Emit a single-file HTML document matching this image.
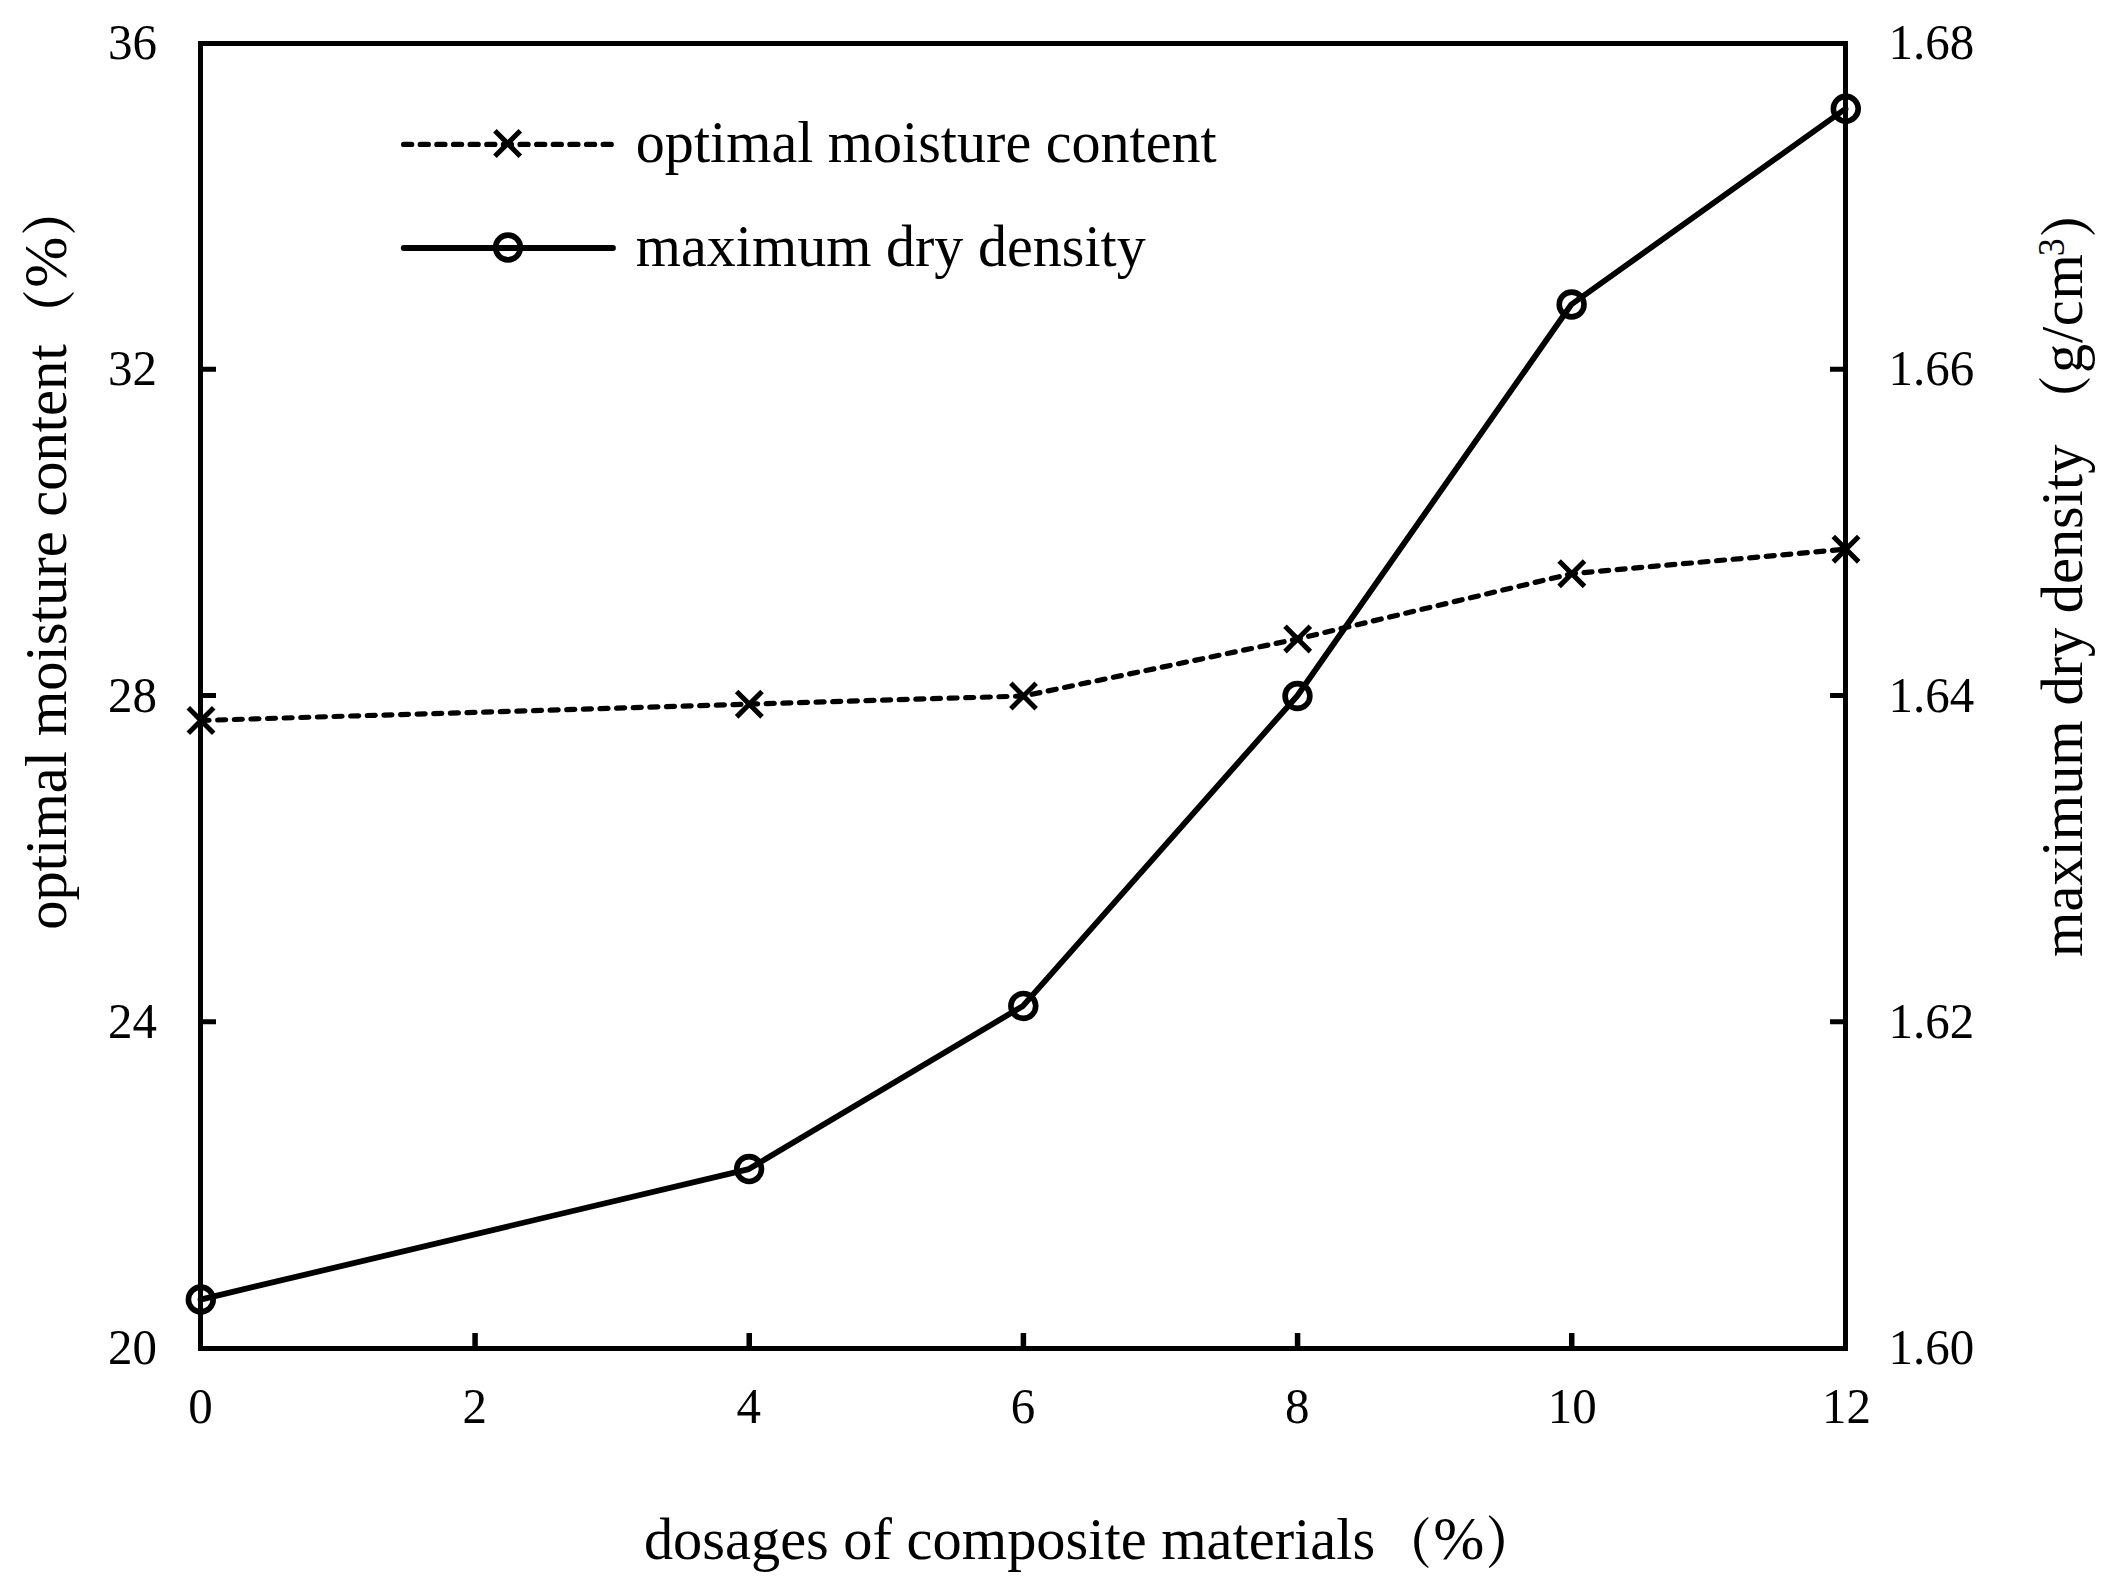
<!DOCTYPE html>
<html lang="en"><head><meta charset="utf-8"><title>Chart</title>
<style>html,body{margin:0;padding:0;background:#fff;}body{width:2115px;height:1591px;overflow:hidden;}svg{display:block;}text{font-family:"Liberation Serif","Noto Serif CJK SC",serif;fill:#000;white-space:pre;}.t{font-size:49px;}.l{font-size:58.4px;}.s{font-size:36px;}.p{font-family:"Noto Serif CJK SC","Liberation Serif",serif;font-weight:700;font-size:54px;}</style></head><body>
<svg width="2115" height="1591" viewBox="0 0 2115 1591">
<rect x="0" y="0" width="2115" height="1591" fill="#fff"/>
<rect x="200.5" y="43.5" width="1645" height="1305" fill="none" stroke="#000" stroke-width="5"/>
<path d="M200.5 1021.85H216M1845.5 1021.85H1830M200.5 695.6H216M1845.5 695.6H1830M200.5 369.35H216M1845.5 369.35H1830" fill="none" stroke="#000" stroke-width="5"/>
<path d="M475.067 1348.5V1333M749.233 1348.5V1333M1023.4 1348.5V1333M1297.57 1348.5V1333M1571.73 1348.5V1333" fill="none" stroke="#000" stroke-width="5.5"/>
<text class="t" transform="translate(157,1364) scale(1,1.035)" text-anchor="end">20</text>
<text class="t" transform="translate(157,1037.75) scale(1,1.035)" text-anchor="end">24</text>
<text class="t" transform="translate(157,711.5) scale(1,1.035)" text-anchor="end">28</text>
<text class="t" transform="translate(157,385.25) scale(1,1.035)" text-anchor="end">32</text>
<text class="t" transform="translate(157,59) scale(1,1.035)" text-anchor="end">36</text>
<text class="t" transform="translate(1888.5,1364) scale(1,1.035)">1.60</text>
<text class="t" transform="translate(1888.5,1037.75) scale(1,1.035)">1.62</text>
<text class="t" transform="translate(1888.5,711.5) scale(1,1.035)">1.64</text>
<text class="t" transform="translate(1888.5,385.25) scale(1,1.035)">1.66</text>
<text class="t" transform="translate(1888.5,59) scale(1,1.035)">1.68</text>
<text class="t" transform="translate(200.5,1423.3) scale(1,1.035)" text-anchor="middle">0</text>
<text class="t" transform="translate(474.667,1423.3) scale(1,1.035)" text-anchor="middle">2</text>
<text class="t" transform="translate(748.833,1423.3) scale(1,1.035)" text-anchor="middle">4</text>
<text class="t" transform="translate(1023,1423.3) scale(1,1.035)" text-anchor="middle">6</text>
<text class="t" transform="translate(1297.17,1423.3) scale(1,1.035)" text-anchor="middle">8</text>
<text class="t" transform="translate(1572.33,1423.3) scale(1,1.035)" text-anchor="middle">10</text>
<text class="t" transform="translate(1846.5,1423.3) scale(1,1.035)" text-anchor="middle">12</text>
<polyline points="200.50,1299.56 748.83,1169.06 1023.00,1005.94 1297.17,696.00 1571.33,304.50 1845.50,108.75" fill="none" stroke="#000" stroke-width="5.8" stroke-linejoin="round" stroke-linecap="round"/>
<polyline points="201.00,720.47 749.33,704.16 1023.50,696.00 1297.67,638.91 1571.83,573.66 1846.00,549.19" fill="none" stroke="#000" stroke-width="5.2" stroke-linejoin="round" stroke-linecap="round" stroke-dasharray="8.1 8.53" stroke-dashoffset="0"/>
<path d="M188.30 707.77L213.70 733.17M188.30 733.17L213.70 707.77" stroke="#000" stroke-width="5" fill="none"/>
<path d="M736.63 691.46L762.03 716.86M736.63 716.86L762.03 691.46" stroke="#000" stroke-width="5" fill="none"/>
<path d="M1010.80 683.30L1036.20 708.70M1010.80 708.70L1036.20 683.30" stroke="#000" stroke-width="5" fill="none"/>
<path d="M1284.97 626.21L1310.37 651.61M1284.97 651.61L1310.37 626.21" stroke="#000" stroke-width="5" fill="none"/>
<path d="M1559.13 560.96L1584.53 586.36M1559.13 586.36L1584.53 560.96" stroke="#000" stroke-width="5" fill="none"/>
<path d="M1833.30 536.49L1858.70 561.89M1833.30 561.89L1858.70 536.49" stroke="#000" stroke-width="5" fill="none"/>
<circle cx="200.80" cy="1299.56" r="12.4" stroke="#000" stroke-width="5.6" fill="none"/>
<circle cx="749.13" cy="1169.06" r="12.4" stroke="#000" stroke-width="5.6" fill="none"/>
<circle cx="1023.30" cy="1005.94" r="12.4" stroke="#000" stroke-width="5.6" fill="none"/>
<circle cx="1297.47" cy="696.00" r="12.4" stroke="#000" stroke-width="5.6" fill="none"/>
<circle cx="1571.63" cy="304.50" r="12.4" stroke="#000" stroke-width="5.6" fill="none"/>
<circle cx="1845.80" cy="108.75" r="12.4" stroke="#000" stroke-width="5.6" fill="none"/>
<path d="M403.6 144.4H611.7" fill="none" stroke="#000" stroke-width="5.2" stroke-linecap="round" stroke-dasharray="8.1 8.53"/>
<path d="M494.90 130.80L520.30 156.20M494.90 156.20L520.30 130.80" stroke="#000" stroke-width="5" fill="none"/>
<path d="M403.7 248H613" fill="none" stroke="#000" stroke-width="5.8" stroke-linecap="round"/>
<circle cx="508.00" cy="247.50" r="12.4" stroke="#000" stroke-width="5.6" fill="none"/>
<text class="l" transform="translate(635.8,162) scale(0.995,1)">optimal moisture content</text>
<text class="l" transform="translate(635.8,266) scale(0.995,1)">maximum dry density</text>
<text class="l" transform="translate(643.9,1559.2)">dosages of composite materials</text>
<text class="p" transform="translate(1382.9,1562.5) scale(0.9,1)">（</text>
<text class="l" transform="translate(1433.18,1559.2) scale(1.05,1.05)">%</text>
<text class="p" transform="translate(1485.63,1563.2) scale(0.9315,1.035)">）</text>
<text class="l" transform="translate(66,929.8) rotate(-90) scale(1.003,1)">optimal moisture content</text>
<text class="p" transform="translate(69.3,337.9) rotate(-90) scale(0.9,1)">（</text>
<text class="l" transform="translate(66,287.725) rotate(-90) scale(1.05,1.05)">%</text>
<text class="p" transform="translate(70,235.667) rotate(-90) scale(0.9315,1.035)">）</text>
<text class="l" transform="translate(2082,957) rotate(-90)">maximum dry density</text>
<text class="p" transform="translate(2085.3,423.9) rotate(-90) scale(0.9,1)">（</text>
<text class="l" transform="translate(2082,373) rotate(-90)"><tspan style="letter-spacing:0.7px">g/cm</tspan></text>
<text class="s" transform="translate(2064,256.2) rotate(-90) scale(1,1.08)">3</text>
<text class="p" transform="translate(2089.3,237.659) rotate(-90) scale(0.95625,1.0625)">）</text>
</svg></body></html>
